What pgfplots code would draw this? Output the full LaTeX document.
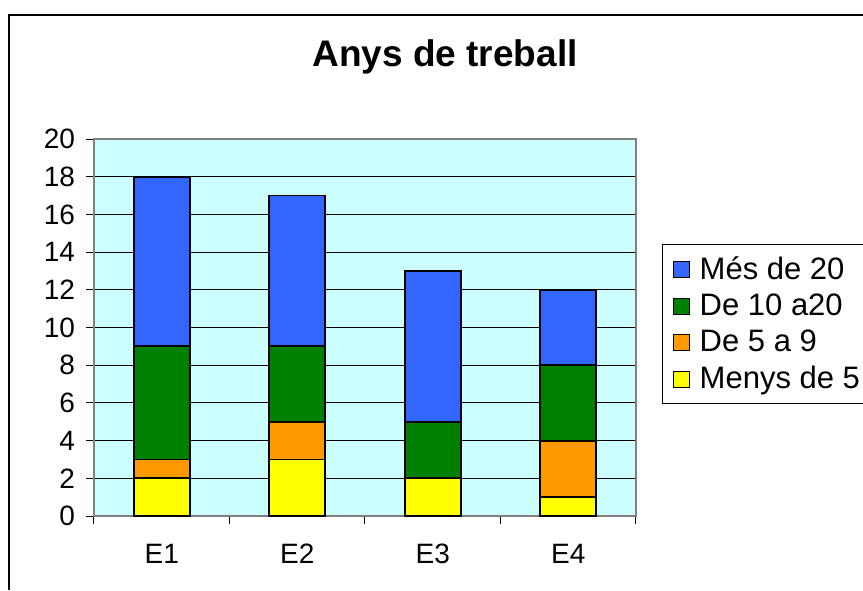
\documentclass[border=0pt]{standalone}
\usepackage{fontspec}
\setmainfont{Liberation Sans}
\usepackage{pgfplots}
\pgfplotsset{compat=1.18}
\definecolor{cblue}{HTML}{3366FF}
\definecolor{cgreen}{HTML}{008000}
\definecolor{corange}{HTML}{FF9900}
\definecolor{cyellow}{HTML}{FFFF00}
\definecolor{cbg}{HTML}{CCFFFF}
\begin{document}
\begin{tikzpicture}
\useasboundingbox (0,0) rectangle (431.5pt,295pt);
\draw[line width=0.8pt] (4.5pt,0) -- (4.5pt,287.5pt) -- (431.5pt,287.5pt);
\node[font=\fontsize{18.5}{22}\selectfont\bfseries] at (222.5pt,266.5pt) {Anys de treball};
\begin{axis}[
  at={(47pt,37pt)}, anchor=south west,
  scale only axis, width=271pt, height=188.5pt,
  ybar stacked, bar width=28pt,
  xmin=-0.5, xmax=3.5, ymin=0, ymax=20,
  ytick={0,2,...,20},
  xtick={0,1,2,3}, xticklabels={E1,E2,E3,E4},
  minor xtick={-0.5,0.5,1.5,2.5,3.5},
  xtick pos=bottom, ytick pos=left,
  major x tick style={draw=none},
  minor x tick style={black, line width=0.5pt},
  major y tick style={black, line width=0.5pt},
  tick align=outside, major tick length=4pt, minor tick length=4pt,
  ymajorgrids, grid style={black, line width=0.5pt},
  axis background/.style={fill=cbg},
  axis line style={gray, line width=0.9pt},
  tick label style={font=\fontsize{14}{16}\selectfont},
  /pgf/number format/assume math mode=true,
  yticklabel style={xshift=-2pt},
  xticklabel style={anchor=base, yshift=-19.5pt},
  every axis plot/.append style={draw=black, line width=0.9pt},
  legend style={at={(1.048,0.7215)}, anchor=north west, draw=black, line width=0.5pt,
    fill=white, font=\fontsize{15.5}{17}\selectfont, row sep=1.8pt, column sep=3pt,
    inner xsep=5pt, inner ysep=4pt, cells={anchor=west}},
  reverse legend,
  legend image code/.code={\draw[#1, line width=0.6pt] (0pt,-4pt) rectangle (8pt,4pt);},
]
\addplot[fill=cyellow] coordinates {(0,2) (1,3) (2,2) (3,1)};
\addplot[fill=corange] coordinates {(0,1) (1,2) (2,0) (3,3)};
\addplot[fill=cgreen] coordinates {(0,6) (1,4) (2,3) (3,4)};
\addplot[fill=cblue] coordinates {(0,9) (1,8) (2,8) (3,4)};
\legend{Menys de 5, De 5 a 9, De 10 a20, Més de 20}
\end{axis}
\end{tikzpicture}
\end{document}
